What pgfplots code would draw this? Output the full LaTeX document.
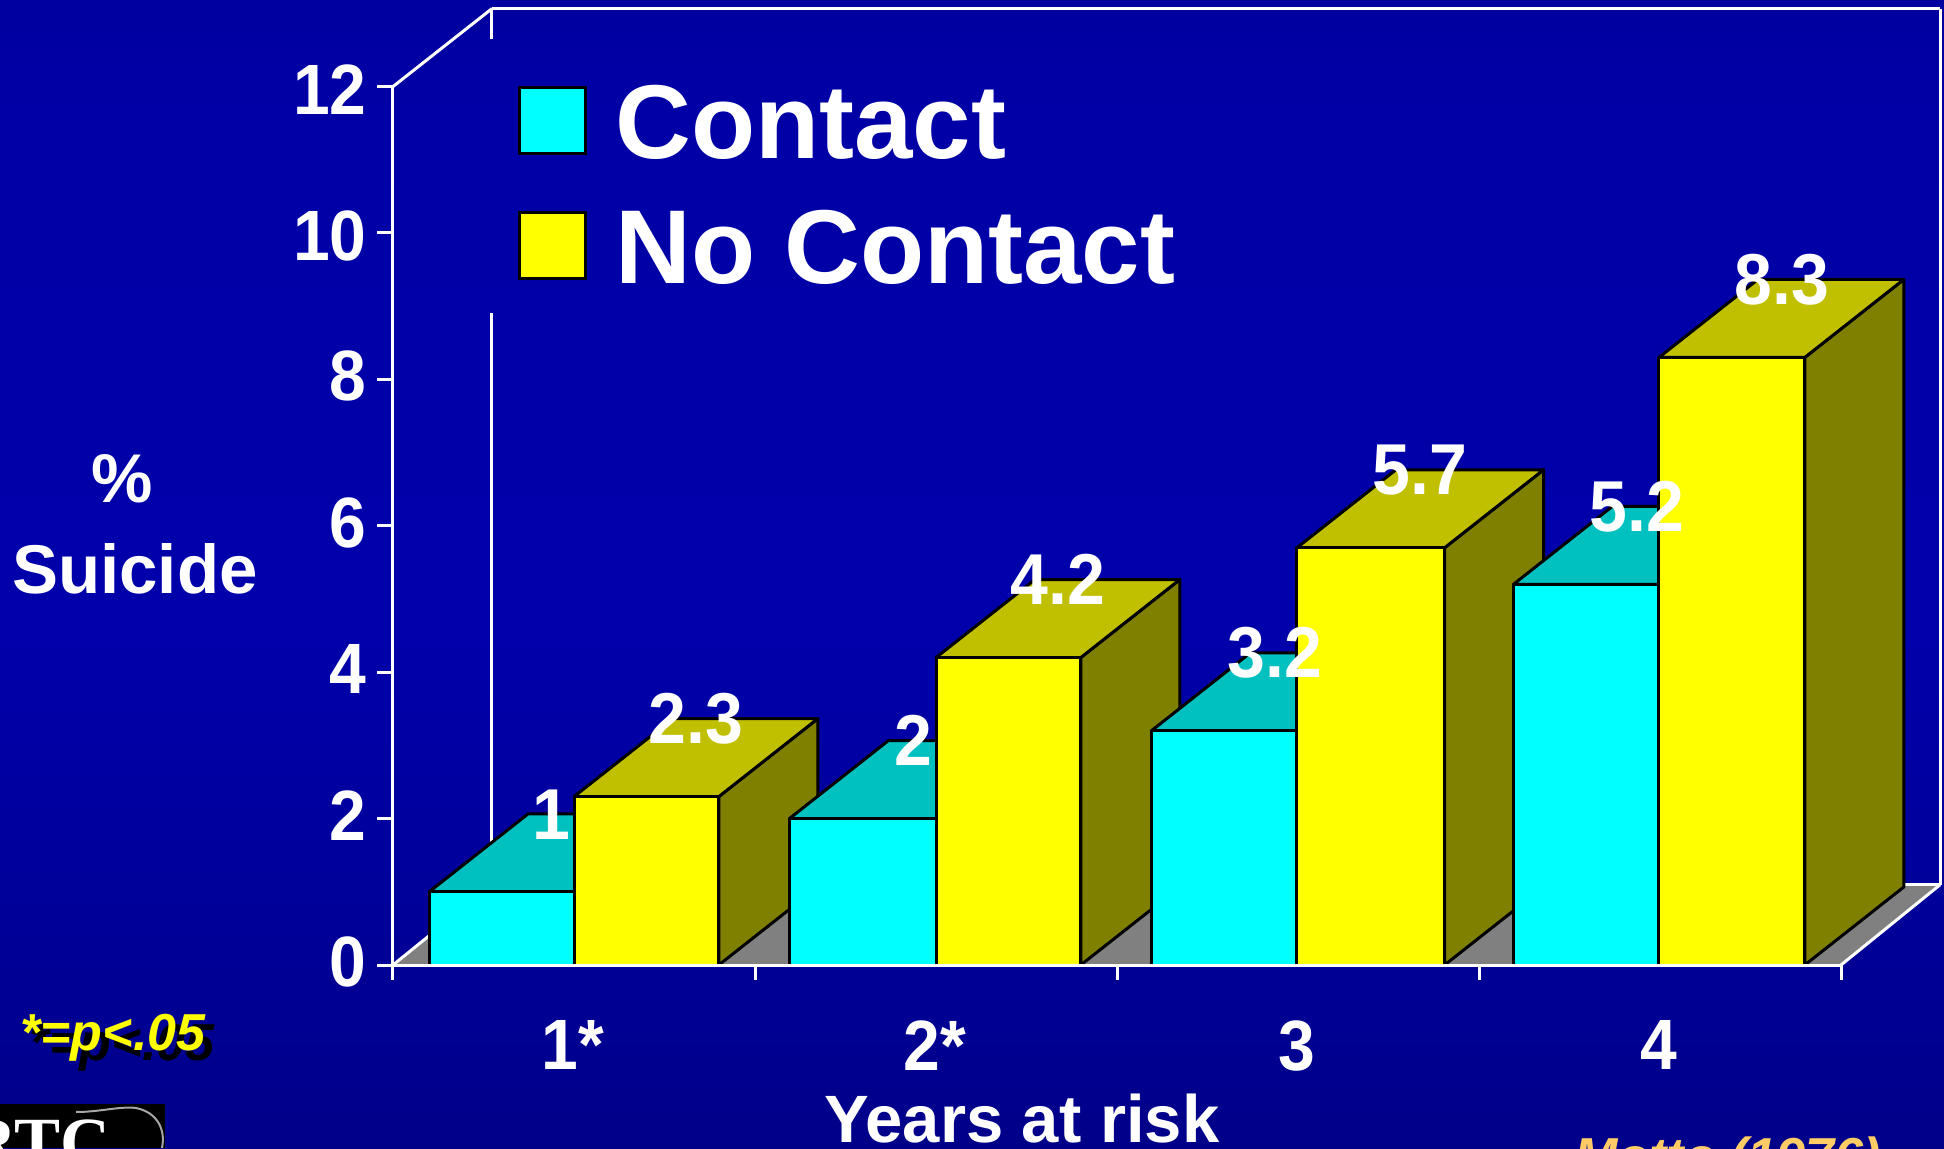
\documentclass[border=0pt]{standalone}
\usepackage{fontspec}
\setmainfont{Liberation Sans}
\newfontfamily\logofont{Liberation Serif}
\usepackage{pgfplots}
\pgfplotsset{compat=1.18}

\definecolor{cyanfront}{HTML}{00FFFF}
\definecolor{cyantop}{HTML}{00C0C0}
\definecolor{yellowfront}{HTML}{FFFF00}
\definecolor{yellowtop}{HTML}{C0C000}
\definecolor{yellowside}{HTML}{808000}
\definecolor{floorgrey}{HTML}{808080}
\definecolor{citeorange}{HTML}{FFCC66}

\pgfdeclareverticalshading{slidebg}{100bp}{
  rgb(0bp)=(0,0,0.38);
  rgb(13.8bp)=(0,0,0.46);
  rgb(30bp)=(0,0,0.57);
  rgb(47.7bp)=(0,0,0.67);
  rgb(70.4bp)=(0,0,0.65);
  rgb(100bp)=(0,0,0.50)}

% One oblique box: side, top, then front face
\newcommand{\solidbar}[6]{%
  \addplot3[forget plot, mark=none, draw=black, line width=1.5pt, line join=round, fill=#6]
    coordinates {(#2,0,0) (#2,1,0) (#2,1,#3) (#2,0,#3)} -- cycle;
  \addplot3[forget plot, mark=none, draw=black, line width=1.5pt, line join=round, fill=#5]
    coordinates {(#1,0,#3) (#2,0,#3) (#2,1,#3) (#1,1,#3)} -- cycle;
  \addplot3[forget plot, mark=none, draw=black, line width=1.5pt, line join=round, fill=#4]
    coordinates {(#1,0,0) (#2,0,0) (#2,0,#3) (#1,0,#3)} -- cycle;
}
\newcommand{\barlabel}[2]{%
  \node[anchor=base, inner sep=0pt, text=white, font=\fontsize{34}{38}\selectfont\bfseries,
        yscale=1.06, yshift=6.5pt] at (axis cs:#1,0.5,#2) {#2};
}
% White frame segment, in axis units
\newcommand{\frameline}[2]{%
  \addplot3[forget plot, mark=none, draw=white, line width=1.5pt] coordinates {#1 #2};
}

\begin{document}
\begin{tikzpicture}
  \path[use as bounding box, clip] (0,0) rectangle (972pt,574pt);
  \shade[shading=slidebg] (0,0) rectangle (972pt,574pt);

  \begin{axis}[
    at={(196.5pt,91.5pt)}, anchor=origin,
    x={(181pt,0pt)}, y={(49.5pt,39pt)}, z={(0pt,36.6pt)},
    xmin=0, xmax=4, ymin=0, ymax=1, zmin=0, zmax=12,
    clip=false,
    axis line style={draw=none},
    tick style={draw=none},
    major tick length=0pt,
    ytick=\empty,
    xtick={0.5,1.5,2.5,3.5},
    xticklabels={1*,2*,3,4},
    ztick={0,2,4,6,8,10,12},
    xtick pos=left, ztick pos=left,
    tick label style={font=\fontsize{33}{38}\selectfont\bfseries, text=white, yscale=1.08,
      /pgf/number format/assume math mode=true, inner sep=0pt},
    every x tick label/.append style={xshift=5.5pt, yshift=-25.5pt},
    every z tick label/.append style={xshift=-13pt, yshift=4.5pt},
    xlabel={Years at risk},
    xlabel style={font=\fontsize{33.5}{38}\selectfont\bfseries, text=white, anchor=base,
      at={(axis cs:1.7376,0,-2.42)}, inner sep=0pt},
    zlabel={\%\hspace*{12.4pt}\\[5.5pt]Suicide},
    zlabel style={font=\fontsize{34.5}{40}\selectfont\bfseries, text=white, rotate=-90,
      align=center, anchor=center, at={(axis cs:-0.713,0,6.02)}, inner sep=0pt},
    legend image code/.code={\draw[#1] (0pt,-15pt) rectangle (33pt,18pt); \path (45pt,0pt);},
    legend cell align=left,
    legend style={draw=none, fill=none, at={(axis cs:0.345,0,12.08)}, anchor=north west,
      font=\fontsize{52.5}{58}\selectfont\bfseries, text=white, inner sep=0pt,
      row sep=20.5pt},
  ]
    % Floor, its back edge sitting a touch higher than the bar feet
    \addplot3[forget plot, mark=none, draw=none, fill=floorgrey]
      coordinates {(0,0,0) (4,0,0) (4,1,0.03) (0,1,0.03)} -- cycle;

    % Back and side frame
    \frameline{(0,1,12)}{(4,1,12)}
    \frameline{(4,1,12)}{(4,1,0.03)}
    \frameline{(0,1,12)}{(0,1,11.59)}
    \frameline{(0,1,7.84)}{(0,1,0.03)}
    \frameline{(0,1,0.03)}{(4,1,0.03)}
    \frameline{(0,0,0)}{(0,1,0.03)}
    \frameline{(4,0,0)}{(4,1,0.03)}
    \frameline{(0,0,12)}{(0,1,12)}
    \frameline{(0,0,0)}{(0,0,12)}

    % Value axis ticks
    \frameline{(-0.044,0,0)}{(0,0,0)}
    \frameline{(-0.044,0,2)}{(0,0,2)}
    \frameline{(-0.044,0,4)}{(0,0,4)}
    \frameline{(-0.044,0,6)}{(0,0,6)}
    \frameline{(-0.044,0,8)}{(0,0,8)}
    \frameline{(-0.044,0,10)}{(0,0,10)}
    \frameline{(-0.044,0,12)}{(0,0,12)}

    % Bars: Contact, then No Contact, year by year
    \solidbar{0.1}{0.5}{1}{cyanfront}{cyantop}{cyantop}
    \solidbar{0.5}{0.9}{2.3}{yellowfront}{yellowtop}{yellowside}
    \solidbar{1.095}{1.5}{2}{cyanfront}{cyantop}{cyantop}
    \solidbar{1.5}{1.9}{4.2}{yellowfront}{yellowtop}{yellowside}
    \solidbar{2.095}{2.497}{3.2}{cyanfront}{cyantop}{cyantop}
    \solidbar{2.497}{2.905}{5.7}{yellowfront}{yellowtop}{yellowside}
    \solidbar{3.095}{3.497}{5.2}{cyanfront}{cyantop}{cyantop}
    \solidbar{3.497}{3.9}{8.3}{yellowfront}{yellowtop}{yellowside}

    % Front baseline and category ticks
    \frameline{(0,0,0)}{(4,0,0)}
    \frameline{(0,0,0)}{(0,0,-0.2)}
    \frameline{(1,0,0)}{(1,0,-0.2)}
    \frameline{(2,0,0)}{(2,0,-0.2)}
    \frameline{(3,0,0)}{(3,0,-0.2)}
    \frameline{(4,0,0)}{(4,0,-0.2)}

    \barlabel{0.3}{1}
    \barlabel{0.7}{2.3}
    \barlabel{1.3}{2}
    \barlabel{1.7}{4.2}
    \barlabel{2.3}{3.2}
    \barlabel{2.7}{5.7}
    \barlabel{3.3}{5.2}
    \barlabel{3.7}{8.3}

    \addlegendimage{fill=cyanfront, draw=black, line width=1.5pt}
    \addlegendentry{Contact}
    \addlegendimage{fill=yellowfront, draw=black, line width=1.5pt}
    \addlegendentry{No Contact}
  \end{axis}

  % Significance note with its drop shadow
  \node[anchor=base west, inner sep=0pt, text=black, font=\fontsize{26}{30}\selectfont\bfseries\itshape]
    at (14.5pt,44pt) {*=p<.05};
  \node[anchor=base west, inner sep=0pt, text=yellowfront, font=\fontsize{26}{30}\selectfont\bfseries\itshape]
    at (10pt,49pt) {*=p<.05};

  % Logo corner
  \fill[black] (0,0) rectangle (82.5pt,22pt);
  \node[anchor=base west, inner sep=0pt, text=white, font=\fontsize{34.5}{38}\selectfont\logofont\bfseries]
    at (-16.5pt,-8.5pt) {RTC};
  \draw[gray!70, line width=1pt] (38pt,18pt) .. controls (50pt,18pt) and (60pt,21pt) .. (68pt,20pt)
    .. controls (78pt,18pt) and (83pt,10pt) .. (81pt,0pt);

  % Source
  \node[anchor=base west, inner sep=0pt, text=citeorange, font=\fontsize{26}{30}\selectfont\bfseries\itshape]
    at (787pt,-13pt) {Motto (1976)};
\end{tikzpicture}
\end{document}
